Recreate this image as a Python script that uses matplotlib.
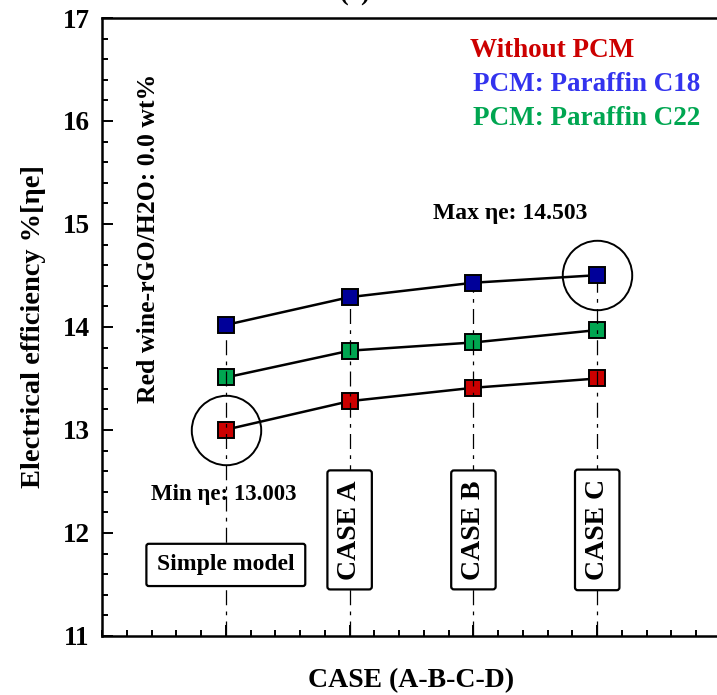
import numpy as np
import matplotlib.pyplot as plt

# -----------------------
# Data
# -----------------------
cases = ["Simple model", "CASE A", "CASE B", "CASE C"]
case_pos = [1, 2, 3, 4]
eta_no_pcm = [13.003, 13.28, 13.41, 13.50]
eta_c18 = [14.02, 14.29, 14.43, 14.503]
eta_c22 = [13.51, 13.77, 13.85, 13.97]
yticks = [11, 12, 13, 14, 15, 16, 17]

red = "#cc0000"
blue = "#000099"
green = "#00a651"

plt.rcParams["font.family"] = ["Liberation Serif", "DejaVu Serif"]
plt.rcParams["font.weight"] = "bold"

fig = plt.figure(figsize=(7.17, 6.95), dpi=100)
ax = fig.add_axes([0.1423, 0.0849, 0.8633, 0.8892])

# connecting lines
for vals in (eta_no_pcm, eta_c22, eta_c18):
    ax.plot(case_pos, vals, color="black", lw=1.8, zorder=2)

# markers
mk = dict(marker="s", ms=12, mec="black", mew=1.4, ls="none")
ax.plot(case_pos, eta_no_pcm, mfc=red, zorder=3, **mk)
ax.plot(case_pos, eta_c22, mfc=green, zorder=3, **mk)

# dash-dot guides from bottom up to the top series
for x, top in zip(case_pos, eta_c18):
    ax.plot([x, x], [11, top], color="black", lw=0.9,
            ls=(0, (12, 5, 3, 5)), zorder=4)

ax.plot(case_pos, eta_c18, mfc=blue, zorder=5, **mk)

# min / max circles
i_min = int(np.argmin(eta_no_pcm))
i_max = int(np.argmax(eta_c18))
ax.plot(case_pos[i_min], eta_no_pcm[i_min], marker="o", ms=50, mfc="none",
        mec="black", mew=1.4, zorder=6)
ax.plot(case_pos[i_max], eta_c18[i_max], marker="o", ms=50, mfc="none",
        mec="black", mew=1.4, zorder=6)

ax.text(3.30, 15.10, f"Max \u03b7e: {eta_c18[i_max]:.3f}", ha="center",
        va="center", fontsize=17, fontweight="bold")
ax.text(0.985, 12.37, f"Min \u03b7e: {eta_no_pcm[i_min]:.3f}", ha="center",
        va="center", fontsize=16.5, fontweight="bold")

# case boxes
ax.text(case_pos[0], 11.69, cases[0], ha="center", va="center",
        fontsize=17, fontweight="bold", zorder=7,
        bbox=dict(boxstyle="round,pad=0.45,rounding_size=0.1", fc="white",
                  ec="black", lw=1.6))
for x, lab in zip(case_pos[1:], cases[1:]):
    ax.text(x, 12.03, lab, ha="center", va="center", rotation=90,
            fontsize=20, fontweight="bold", zorder=7,
            bbox=dict(boxstyle="round,pad=0.35,rounding_size=0.1",
                      fc="white", ec="black", lw=1.6))

# legend-like labels
ax.text(0.595, 0.948, "Without PCM", transform=ax.transAxes, color=red,
        fontsize=19.5, fontweight="bold", va="center")
ax.text(0.6, 0.893, "PCM: Paraffin C18", transform=ax.transAxes,
        color="#3333ee", fontsize=19.5, fontweight="bold", va="center")
ax.text(0.6, 0.838, "PCM: Paraffin C22", transform=ax.transAxes,
        color=green, fontsize=19.5, fontweight="bold", va="center")

ax.text(0.375, 14.86, "Red wine-rGO/H2O: 0.0 wt%", rotation=90, ha="center",
        va="center", fontsize=18.5, fontweight="bold")

fig.text(0.495, 1.008, "(a)", ha="center", va="center", fontsize=19)

# axes styling
ax.set_xlim(0, 5)
ax.set_ylim(11, 17)
ax.set_yticks(yticks)
ax.set_yticks(np.arange(11, 17.01, 0.2), minor=True)
ax.set_xticks(case_pos)
ax.set_xticks(np.arange(0, 5.01, 0.2), minor=True)
ax.set_xticklabels([])
ax.tick_params(which="both", direction="in", top=False, right=False, width=1.4)
ax.tick_params(which="major", length=8, pad=9, labelsize=19.5)
ax.tick_params(which="minor", length=4.5)
for lab in ax.get_yticklabels():
    lab.set_fontweight("bold")
for s in ax.spines.values():
    s.set_linewidth(1.8)

ax.set_xlabel("CASE (A-B-C-D)", fontsize=20, fontweight="bold", labelpad=14)
ax.set_ylabel("Electrical efficiency %[\u03b7e]", fontsize=20.5,
              fontweight="bold", labelpad=12)

fig.savefig("out.png", dpi=100)
